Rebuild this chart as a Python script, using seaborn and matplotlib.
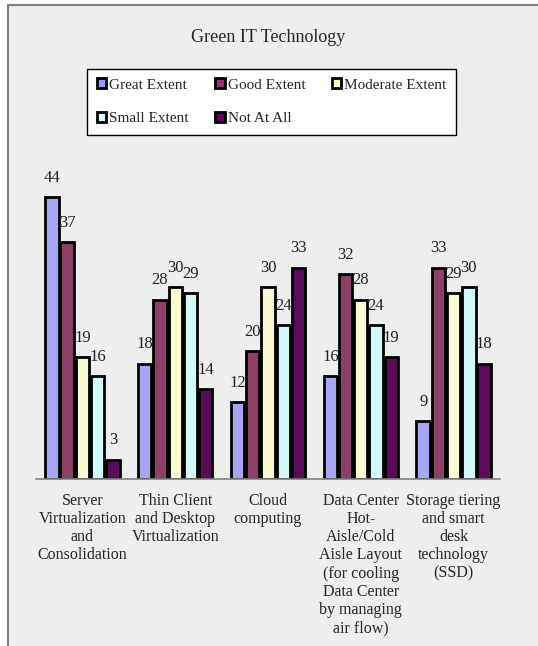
import pandas as pd
import matplotlib
matplotlib.use("Agg")
import matplotlib.pyplot as plt
from matplotlib.patches import Patch, Rectangle
import seaborn as sns

# data
technologies = [
    "Server\nVirtualization\nand\nConsolidation",
    "Thin Client\nand Desktop\nVirtualization",
    "Cloud\ncomputing",
    "Data Center\nHot-\nAisle/Cold\nAisle Layout\n(for cooling\nData Center\nby managing\nair flow)",
    "Storage tiering\nand smart\ndesk\ntechnology\n(SSD)",
]
levels = ["Great Extent", "Good Extent", "Moderate Extent", "Small Extent", "Not At All"]
great_extent = [44, 18, 12, 16, 9]
good_extent = [37, 28, 20, 32, 33]
moderate_extent = [19, 30, 30, 28, 29]
small_extent = [16, 29, 24, 24, 30]
not_at_all = [3, 14, 33, 19, 18]
colors = ["#9999FF", "#993366", "#FFFFCC", "#CCFFFF", "#660066"]

series = [great_extent, good_extent, moderate_extent, small_extent, not_at_all]
rows = []
for lvl, vals in zip(levels, series):
    for tech, v in zip(technologies, vals):
        rows.append({"tech": tech, "level": lvl, "value": v})
df = pd.DataFrame(rows)

sns.set_theme(style="white")
plt.rcParams['font.family'] = ['Liberation Serif', 'DejaVu Serif']

fig = plt.figure(figsize=(5.38, 6.46), dpi=100)
fig.patch.set_facecolor("white")

# grey chart frame like the scanned original
W, H = 538, 646
fig.patches.append(Rectangle((8 / W, -0.02), 1.05, 1 - 5 / H + 0.02,
                             transform=fig.transFigure, facecolor="#EEEEEE",
                             edgecolor="#808080", linewidth=1.5, zorder=-10))

ax = fig.add_axes([36 / W, 1 - 478.7 / H, 464 / W, 320 / H])
ax.set_facecolor("none")

sns.barplot(data=df, x="tech", y="value", hue="level", order=technologies,
            hue_order=levels, palette=colors, edgecolor="black", linewidth=2,
            width=0.82, gap=0.12, legend=False, ax=ax)

for cont in ax.containers:
    ax.bar_label(cont, padding=8, fontsize=12, color="#222222")

ax.set_ylim(0, 50)
ax.set_xlim(-0.5, 4.5)
ax.set_xlabel("")
ax.set_ylabel("")
ax.set_yticks([])
ax.set_xticks(range(len(technologies)))
ax.set_xticklabels(technologies, linespacing=1.19, fontsize=11.5)
ax.tick_params(axis="x", length=0, pad=10)
for s in ["top", "right", "left"]:
    ax.spines[s].set_visible(False)
ax.spines["bottom"].set_color("#808080")
ax.spines["bottom"].set_linewidth(1.2)

fig.text(0.499, 1 - 37 / H, "Green IT Technology", ha="center", va="center", fontsize=13)

# legend is filled column by column, so reorder to read row by row
leg_order = [0, 3, 1, 4, 2]
handles = [Patch(facecolor=colors[i], edgecolor="black", linewidth=2) for i in leg_order]
labels = [levels[i] for i in leg_order]
leg = ax.legend(handles, labels, ncol=3, loc="upper left",
                bbox_to_anchor=(87 / W, 1 - 68.5 / H), bbox_transform=fig.transFigure,
                fontsize=11, frameon=True, fancybox=False, framealpha=1,
                handlelength=0.6, handleheight=0.6, handletextpad=0.2,
                columnspacing=1.75, labelspacing=1.32, borderpad=0.65, borderaxespad=0)
leg.get_frame().set_edgecolor("black")
leg.get_frame().set_linewidth(1)
leg.get_frame().set_facecolor("white")

fig.savefig("out.png", dpi=100)
